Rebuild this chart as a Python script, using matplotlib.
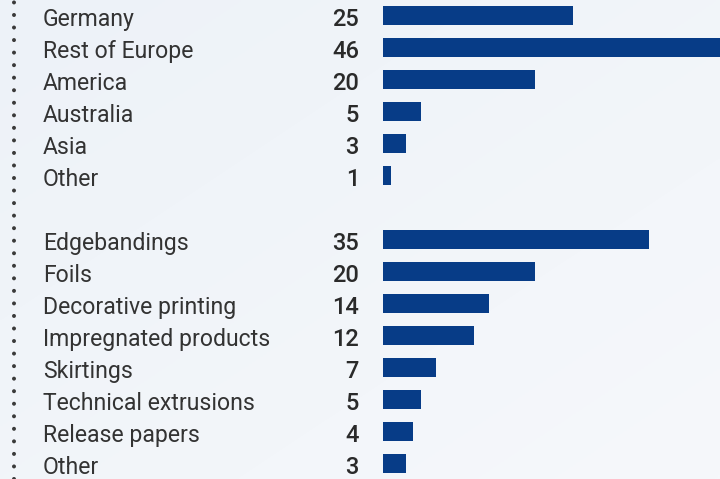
import numpy as np
import matplotlib.pyplot as plt
from matplotlib.lines import Line2D
from matplotlib.transforms import blended_transform_factory

# markets (top group) and product areas (bottom group), shares in %
markets = ['Germany', 'Rest of Europe', 'America', 'Australia', 'Asia', 'Other']
market_vals = [25, 46, 20, 5, 3, 1]
products = ['Edgebandings', 'Foils', 'Decorative printing', 'Impregnated products',
            'Skirtings', 'Technical extrusions', 'Release papers', 'Other']
product_vals = [35, 20, 14, 12, 7, 5, 4, 3]

labels = markets + products
vals = market_vals + product_vals
# one empty row between the two groups
rows = list(range(len(markets))) + [len(markets) + 1 + i for i in range(len(products))]

W, H = 720, 479
fig = plt.figure(figsize=(W / 100, H / 100), dpi=100)
fig.patch.set_facecolor('#f1f5fa')

# soft background gradient
bg = fig.add_axes([0, 0, 1, 1])
gx = np.linspace(0, 1, 200)
gy = np.linspace(0, 1, 200)
GX, GY = np.meshgrid(gx, gy)
grad = 0.5 * GX + 0.5 * GY
bg.imshow(grad, cmap=plt.matplotlib.colors.LinearSegmentedColormap.from_list(
    'bg', ['#edf2f8', '#f6f8fb']), extent=[0, 1, 0, 1], aspect='auto')
bg.axis('off')

x0 = 383  # pixel where bars start
px_per_unit = 7.6
ax = fig.add_axes([x0 / W, 0, 1 - x0 / W, 1])
ax.patch.set_alpha(0)
ax.set_xlim(0, (W - x0) / px_per_unit)
ax.set_ylim((H - 15.5) / 32, -15.5 / 32)
ax.barh(rows, vals, height=19 / 32, color='#073c87', left=0)
ax.axis('off')

tr = blended_transform_factory(fig.transFigure, ax.transData)
for r, lab, v in zip(rows, labels, vals):
    fig.text(43 / W, r + 0.04, lab, transform=tr, ha='left', va='center_baseline',
             fontsize=16.6, color='#333333', family='Roboto')
    fig.text(359 / W, r + 0.04, str(v), transform=tr, ha='right', va='center_baseline',
             fontsize=17, color='#2a2a2a', family='Roboto', fontweight='medium')

# dotted rule on the left
fig.add_artist(Line2D([14 / W, 14 / W], [0, 1], transform=fig.transFigure,
                      color='#3a3a3a', lw=2.9, linestyle=(0, (0.01, 9 / 2.9)),
                      dash_capstyle='round'))

fig.savefig('out.png', dpi=100)
